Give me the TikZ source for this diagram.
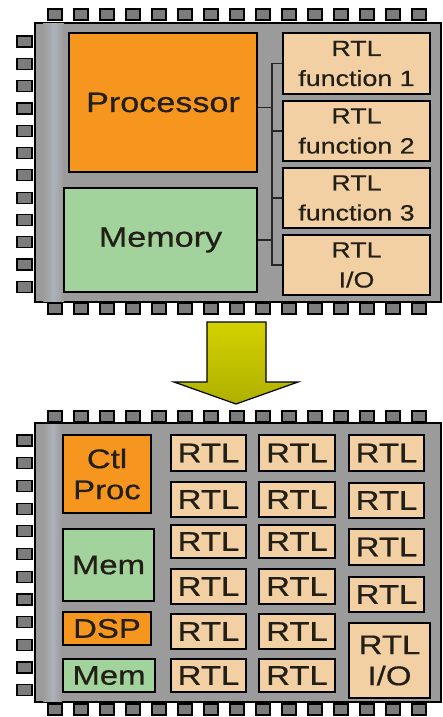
\documentclass[tikz,border=0pt]{standalone}
\usepackage{fontspec}
\setmainfont{Liberation Sans}[FakeStretch=1.22,FakeBold=0.6]
\definecolor{orng}{HTML}{F7961E}
\definecolor{grn}{HTML}{A3D39C}
\definecolor{peach}{HTML}{F2D0A4}
\definecolor{chipgray}{HTML}{9B9B9B}
\definecolor{bandgray}{HTML}{ACB2BA}
\definecolor{pingray}{HTML}{7C7C7C}
\definecolor{txt}{HTML}{221F16}
\definecolor{arrowtop}{HTML}{D2D200}
\definecolor{arrowbot}{HTML}{B0B000}
\newcommand\myblk[7]{\node[#6, minimum width={(#4-#2)*1pt}, minimum height={(#5-#3)*1pt}] (#1) at ({(#2+#4)/2},{(#3+#5)/2}) {#7};}
\begin{document}
\begin{tikzpicture}[x=1pt,y=-1pt,
 blk/.style={draw=black, line width=1.6pt, inner sep=0pt, text=txt, align=center},
 procbox/.style={blk, fill=orng},
 membox/.style={blk, fill=grn},
 rtlbox/.style={blk, fill=peach},
 pin/.style={draw=black, line width=1.2pt, fill=pingray},
 chip/.style={draw=black, line width=1.6pt, fill=chipgray},
 bus/.style={draw=black!85, line width=1.3pt},
 hugetext/.style={font=\fontsize{28}{31}\selectfont},
 bigtext/.style={font=\fontsize{27}{31}\selectfont},
 midtext/.style={font=\fontsize{22}{30}\selectfont},
]
\useasboundingbox (0,0) rectangle (442,717);

% ---------- top chip ----------
\foreach \i in {0,...,14} {
  \draw[pin] ({48+26*\i},9) rectangle ++(14,11);
  \draw[pin] ({48+26*\i},303) rectangle ++(14,11);
}
\foreach \j in {0,...,11} \draw[pin] (17,{36+22.3*\j}) rectangle ++(15,11);
\draw[chip] (35,23) rectangle (441,302);
\shade[left color=chipgray, right color=chipgray, middle color=bandgray] (43,24) rectangle (64,301);

\myblk{proc}{69}{33}{257}{172}{procbox,hugetext}{Processor}
\myblk{mem}{64}{188}{257}{292}{membox,hugetext}{Memory}
\myblk{r1}{283}{33}{430}{94}{rtlbox,midtext}{RTL\\function 1}
\myblk{r2}{283}{101}{430}{161}{rtlbox,midtext}{RTL\\function 2}
\myblk{r3}{283}{168}{430}{228}{rtlbox,midtext}{RTL\\function 3}
\myblk{r4}{283}{235}{430}{295}{rtlbox,midtext}{RTL\\I/O}

\coordinate (bus) at (272,0);
\draw[bus] (r1.west) -- (r1.west -| bus) -- (r4.west -| bus) -- (r4.west);
\draw[bus] (r2.west) -- (r2.west -| bus);
\draw[bus] (r3.west) -- (r3.west -| bus);
\draw[bus] ([yshift=-5pt]proc.east) -- ([yshift=-5pt]proc.east -| bus);
\draw[bus] (mem.east) -- (mem.east -| bus);

% ---------- arrow ----------
\draw[line width=1.2pt, top color=arrowtop, bottom color=arrowbot]
  (207,322) -- (266,322) -- (266,382) -- (298,382) -- (236,404) -- (174,382) -- (207,382) -- cycle;

% ---------- bottom chip ----------
\foreach \i in {0,...,14} {
  \draw[pin] ({48+26*\i},411) rectangle ++(14,11);
  \draw[pin] ({48+26*\i},704) rectangle ++(14,11);
}
\foreach \j in {0,...,11} \draw[pin] (17,{435+22.7*\j}) rectangle ++(15,11);
\draw[chip] (35,423) rectangle (441,702);
\shade[left color=chipgray, right color=chipgray, middle color=bandgray] (43,424) rectangle (62,701);

\myblk{ctl}{63}{435}{151}{513}{procbox,bigtext}{Ctl\\Proc}
\myblk{bmem}{63}{529}{154}{601}{membox,bigtext}{Mem}
\myblk{dsp}{63}{612}{151}{645}{procbox,bigtext}{DSP}
\myblk{bmemb}{63}{659}{155}{692}{membox,bigtext}{Mem}

\myblk{a1}{171}{435}{246}{471}{rtlbox,bigtext}{RTL}
\myblk{a2}{171}{482}{246}{517}{rtlbox,bigtext}{RTL}
\myblk{a3}{171}{525}{246}{558}{rtlbox,bigtext}{RTL}
\myblk{a4}{171}{569}{246}{604}{rtlbox,bigtext}{RTL}
\myblk{a5}{171}{614}{246}{649}{rtlbox,bigtext}{RTL}
\myblk{a6}{171}{659}{246}{692}{rtlbox,bigtext}{RTL}

\myblk{b1}{259}{435}{335}{471}{rtlbox,bigtext}{RTL}
\myblk{b2}{259}{482}{335}{517}{rtlbox,bigtext}{RTL}
\myblk{b3}{259}{525}{335}{558}{rtlbox,bigtext}{RTL}
\myblk{b4}{259}{569}{335}{604}{rtlbox,bigtext}{RTL}
\myblk{b5}{259}{614}{335}{649}{rtlbox,bigtext}{RTL}
\myblk{b6}{259}{659}{335}{692}{rtlbox,bigtext}{RTL}

\myblk{c1}{349}{435}{424}{471}{rtlbox,bigtext}{RTL}
\myblk{c2}{349}{483}{424}{518}{rtlbox,bigtext}{RTL}
\myblk{c3}{349}{529}{424}{565}{rtlbox,bigtext}{RTL}
\myblk{c4}{349}{577}{424}{612}{rtlbox,bigtext}{RTL}
\myblk{c5}{349}{623}{430}{698}{rtlbox,bigtext}{RTL\\I/O}
\end{tikzpicture}
\end{document}
